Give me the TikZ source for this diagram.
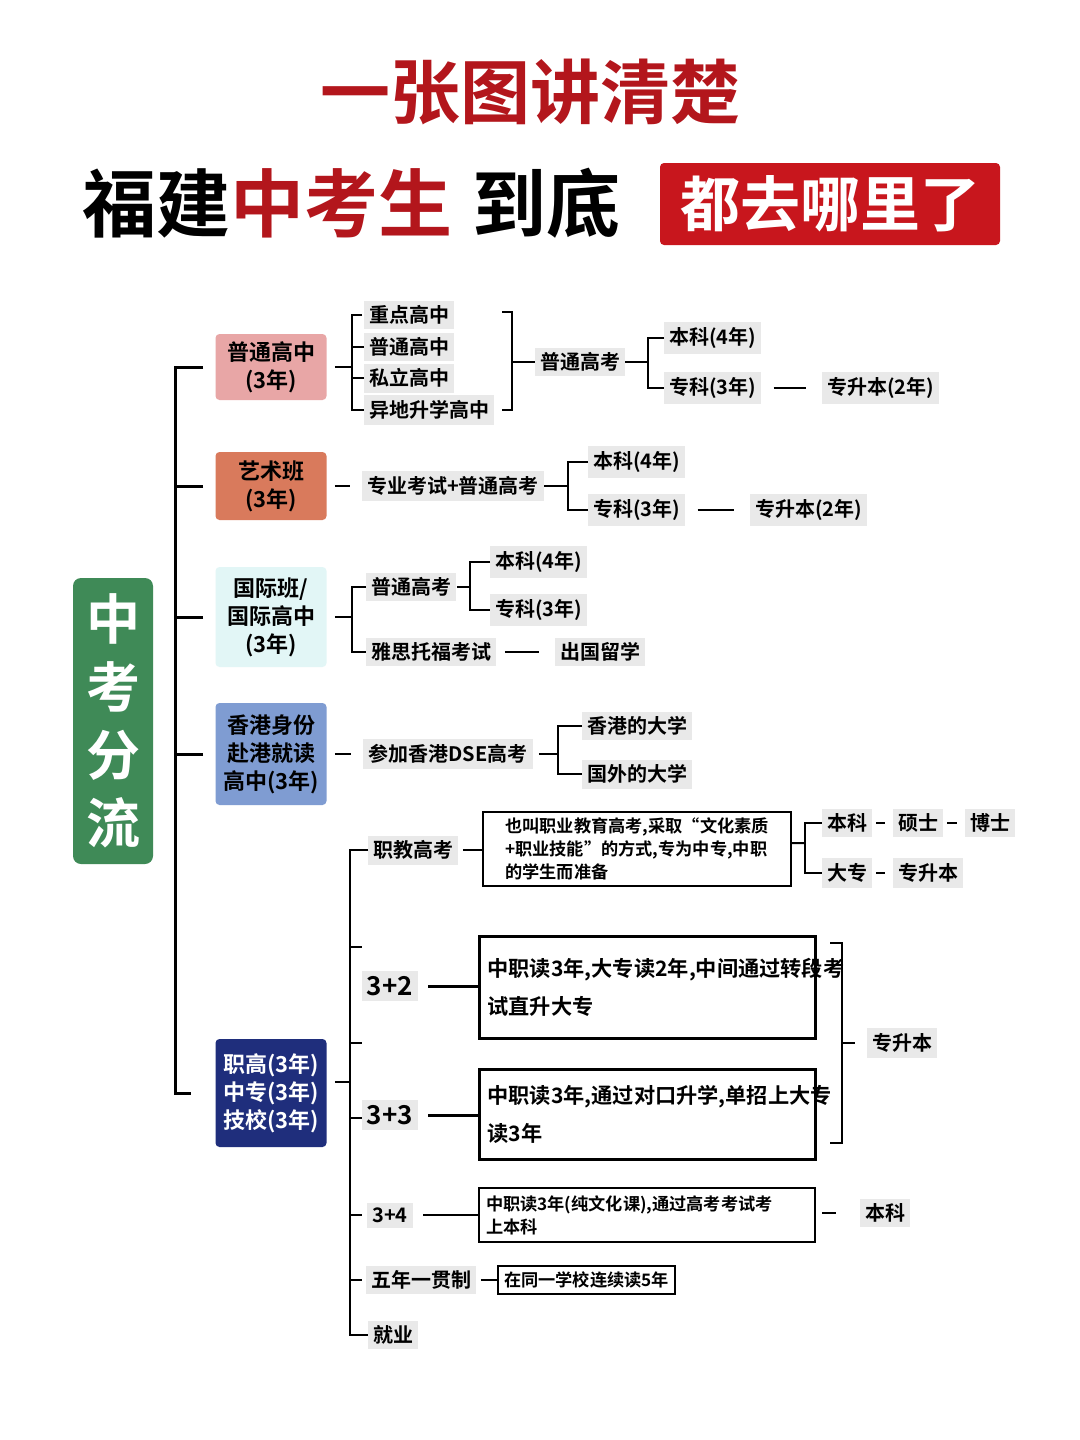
\documentclass[tikz,border=0pt]{standalone}
\usepackage{fontspec}
\setmainfont{Noto Sans CJK SC}[BoldFont={Noto Sans CJK SC Bold}]
\definecolor{tred}{HTML}{B3161C}
\definecolor{boxred}{HTML}{C8161D}
\definecolor{cgreen}{HTML}{3F8A57}
\definecolor{cpink}{HTML}{E8A6A6}
\definecolor{corange}{HTML}{D97A5C}
\definecolor{ccyan}{HTML}{E2F6F6}
\definecolor{cblue}{HTML}{7F9CD2}
\definecolor{cnavy}{HTML}{1F2E7C}
\tikzset{
 lab/.style={fill=gray!17,inner sep=2.5pt,font=\bfseries\fontsize{10}{12}\selectfont},
 cat/.style={rounded corners=2pt,minimum width=55.5pt,align=center,font=\bfseries\fontsize{11}{14}\selectfont,inner sep=2pt},
 sbox/.style={draw,line width=1pt,align=left,anchor=north west,inner sep=3pt,font=\bfseries\fontsize{8.6}{11.5}\selectfont},
 lbox/.style={draw,line width=1.5pt,align=left,anchor=north west,inner sep=4pt,font=\bfseries\fontsize{10.6}{19}\selectfont},
 ln/.style={line width=1pt},
 tk/.style={line width=1.5pt}
}
\begin{document}
\begin{tikzpicture}[x=0.5pt,y=-0.5pt]
\useasboundingbox[fill=white] (0,0) rectangle (1080,1440);
% titles
\node[text=tred,font=\bfseries\fontsize{35}{40}\selectfont] (t1) at (530,92) {一张图讲清楚};
\node[anchor=west,inner sep=0,font=\bfseries\fontsize{37}{42}\selectfont] (t2) at (82,203) {福建\textcolor{tred}{中考生}\hspace{10pt}到底};
\node[fill=boxred,text=white,rounded corners=2pt,minimum width=170pt,minimum height=41pt,font=\bfseries\fontsize{30}{34}\selectfont] (t3) at (830,204) {都去哪里了};
% root
\node[fill=cgreen,text=white,rounded corners=4pt,minimum width=40pt,minimum height=143pt,align=center,font=\bfseries\fontsize{27}{34}\selectfont] (root) at (113,721) {中\\考\\分\\流};
% categories
\node[cat,fill=cpink,minimum height=33pt] (c1) at (271,367) {普通高中\\(3年)};
\node[cat,fill=corange,minimum height=34pt] (c2) at (271,486) {艺术班\\(3年)};
\node[cat,fill=ccyan,minimum height=50pt] (c3) at (271,617) {国际班/\\国际高中\\(3年)};
\node[cat,fill=cblue,minimum height=51pt] (c4) at (271,754) {香港身份\\赴港就读\\高中(3年)};
\node[cat,fill=cnavy,text=white,minimum height=54pt] (c5) at (271,1093) {职高(3年)\\中专(3年)\\技校(3年)};
\draw[tk] (c1.west)++(-12,0) -- ++(-28,0) |- ([xshift=-12]c5.west);
\foreach \c in {c2,c3,c4}{\draw[tk] (\c.west) ++(-12,0) -- ++(-28,0);}
% branch 1
\node[lab,anchor=west] (g1) at (364,315) {重点高中};
\node[lab,anchor=west] (g2) at (364,347) {普通高中};
\node[lab,anchor=west] (g3) at (364,378) {私立高中};
\node[lab,anchor=west] (g4) at (364,410) {异地升学高中};
\draw[ln] (c1.east)++(8,0) -- (352,367);
\draw[ln] (g1.west)++(-2,0) -- (352,315) -- (352,410) -- (g4.west);
\draw[ln] (g2.west) -- (352,347); \draw[ln] (g3.west) -- (352,378);
\node[lab] (k1) at (580,362) {普通高考};
\draw[ln] (502,312) -- (512,312) -- (512,410) -- (502,410);
\draw[ln] (512,362) -- (k1.west);
\node[lab,anchor=west] (b1) at (664,338) {本科(4年)};
\node[lab,anchor=west] (z1) at (664,388) {专科(3年)};
\node[lab,anchor=west] (s1) at (822,388) {专升本(2年)};
\draw[ln] (k1.east) -- (648,362);
\draw[ln] (b1.west) -- (648,338) -- (648,388) -- (z1.west);
\draw[ln] (z1.east)++(12,0) -- ([xshift=-8]s1.west);
% branch 2
\node[lab] (k2) at (453,486) {专业考试+普通高考};
\draw[ln] (c2.east)++(8,0) -- ([xshift=-6]k2.west);
\node[lab,anchor=west] (b2) at (588,462) {本科(4年)};
\node[lab,anchor=west] (z2) at (588,510) {专科(3年)};
\node[lab,anchor=west] (s2) at (750,510) {专升本(2年)};
\draw[ln] (k2.east) -- (568,486);
\draw[ln] (b2.west) -- (568,462) -- (568,510) -- (z2.west);
\draw[ln] (z2.east)++(12,0) -- ([xshift=-8]s2.west);
% branch 3
\node[lab,anchor=west] (k3) at (366,587) {普通高考};
\node[lab,anchor=west] (y3) at (366,652) {雅思托福考试};
\node[lab] (o3) at (600,652) {出国留学};
\draw[ln] (c3.east)++(8,0) -- (352,617);
\draw[ln] (k3.west) -- (352,587) -- (352,652) -- (y3.west);
\node[lab,anchor=west] (b3) at (490,562) {本科(4年)};
\node[lab,anchor=west] (z3) at (490,610) {专科(3年)};
\draw[ln] (k3.east) -- (470,587);
\draw[ln] (b3.west) -- (470,562) -- (470,610) -- (z3.west);
\draw[ln] (y3.east)++(8,0) -- ([xshift=-8]o3.west);
% branch 4
\node[lab] (k4) at (448,754) {参加香港DSE高考};
\draw[ln] (c4.east)++(8,0) -- ([xshift=-6]k4.west);
\node[lab,anchor=west] (h1) at (582,726) {香港的大学};
\node[lab,anchor=west] (h2) at (582,774) {国外的大学};
\draw[ln] (k4.east)++(6,0) -- (558,754);
\draw[ln] (h1.west) -- (558,726) -- (558,774) -- (h2.west);
% branch 5
\node[lab,anchor=west] (v1) at (368,850) {职教高考};
\node[lab,font=\bfseries\fontsize{13}{15}\selectfont] (v2) at (390,986) {3+2};
\node[lab,font=\bfseries\fontsize{13}{15}\selectfont] (v3) at (390,1115) {3+3};
\node[lab] (v4) at (390,1215) {3+4};
\node[lab,anchor=west] (v5) at (366,1280) {五年一贯制};
\node[lab,anchor=west] (v6) at (368,1335) {就业};
\draw[ln] (c5.east)++(8,-11) -- (350,1082);
\draw[ln] (v1.west) -- (350,850) -- (350,1335) -- (v6.west);
\foreach \yy in {947,1043,1118,1215,1280}{\draw[ln] (350,\yy) -- (362,\yy);}
\node[sbox,minimum width=154pt] (d1) at (482,811) {也叫职业教育高考,采取“文化素质\\+职业技能”的方式,专为中专,中职\\的学生而准备};
\draw[ln] (v1.east)++(4,0) -- (d1.west |- v1.east);
\node[lab] (e1) at (847,823) {本科};
\node[lab] (e2) at (918,823) {硕士};
\node[lab] (e3) at (990,823) {博士};
\node[lab] (e4) at (847,873) {大专};
\node[lab] (e5) at (928,873) {专升本};
\draw[ln] (d1.east)++(0,-6) -- (805,843);
\draw[ln] (e1.west) -- (805,823) -- (805,873) -- (e4.west);
\draw[ln] (e1.east)++(4,0) -- ([xshift=-4]e2.west);
\draw[ln] (e2.east)++(4,0) -- ([xshift=-4]e3.west);
\draw[ln] (e4.east)++(4,0) -- ([xshift=-4]e5.west);
\node[lbox,minimum width=168pt,minimum height=51pt,text width=160pt] (d2) at (478,935) {中职读3年,大专读2年,中间通过转段考\\试直升大专};
\node[lbox,minimum width=168pt,minimum height=45pt,text width=160pt] (d3) at (478,1068) {中职读3年,通过对口升学,单招上大专\\读3年};
\draw[tk] (v2.east)++(10,0) -- (d2.west |- v2.east);
\draw[tk] (v3.east)++(10,0) -- (d3.west |- v3.east);
\node[lab] (f1) at (902,1043) {专升本};
\draw[ln] (830,943) -- (842,943) -- (842,1143) -- (830,1143);
\draw[ln] (842,1043) -- ([xshift=-6]f1.west);
\node[sbox,minimum width=168pt,minimum height=27pt,text width=161pt] (d4) at (478,1187) {中职读3年(纯文化课),通过高考考试考\\上本科};
\draw[ln] (v4.east)++(10,0) -- (d4.west |- v4.east);
\node[lab] (f2) at (885,1213) {本科};
\draw[ln] (d4.east |- f2.west)++(6,0) -- ([xshift=-12]f2.west);
\node[sbox,anchor=west] (d5) at (497,1280) {在同一学校连续读5年};
\draw[ln] (v5.east)++(4,0) -- (d5.west);
\end{tikzpicture}
\end{document}
